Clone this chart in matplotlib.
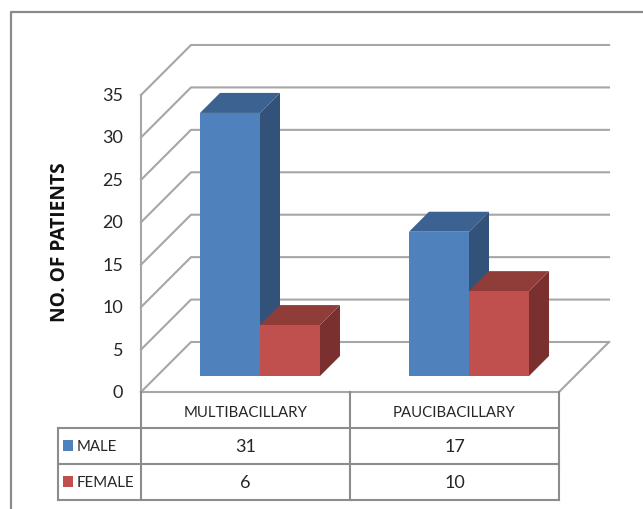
import matplotlib
matplotlib.use("Agg")
import matplotlib.pyplot as plt
from matplotlib.patches import Polygon, Rectangle

categories = ["MULTIBACILLARY", "PAUCIBACILLARY"]
series_names = ["MALE", "FEMALE"]
male = [31, 17]
female = [6, 10]
y_ticks = [0, 5, 10, 15, 20, 25, 30, 35]

W, H = 643, 509
GRID = "#a6a6a6"
TABLE = "#8c8c8c"
TEXT = "#262626"
FACES = {
    "MALE": ("#4f81bd", "#3c6291", "#325279"),
    "FEMALE": ("#c0504d", "#903c39", "#7a302e"),
}

# Pixel scale of the value axis and of one category column.
PX_PER_UNIT = 297 / 35
CAT_W = 209
X0_PX, Y0_PX = 141, 392
BACK = 50       # depth of the walls
BAR_FRONT = 16  # gap between floor edge and bar front
BAR_DEPTH = 20

plt.rcParams["font.family"] = ["Lato", "DejaVu Sans"]
fig = plt.figure(figsize=(W / 100, H / 100), dpi=100)
ax = fig.add_axes([0, 0, 1, 1])
# x is in category columns, y in patients
ax.set_xlim(-X0_PX / CAT_W, (W - X0_PX) / CAT_W)
ax.set_ylim(-(H - Y0_PX) / PX_PER_UNIT, Y0_PX / PX_PER_UNIT)
ax.axis("off")


def dx(px):
    return px / CAT_W


def dy(px):
    return px / PX_PER_UNIT


def line(xs, ys, color=GRID, lw=1.5, z=1):
    ax.plot(xs, ys, color=color, lw=lw, zorder=z, solid_capstyle="projecting")


# Outer frame, open at the bottom and on the right
line([dx(11 - X0_PX), dx(11 - X0_PX), dx(643 - X0_PX)],
     [-(H - Y0_PX) / PX_PER_UNIT, dy(Y0_PX - 12), dy(Y0_PX - 12)], color="#8a8a8a", lw=1.6)

# Walls and floor
n_cat = len(categories)
wall_right = n_cat + dx(BACK)
for v in y_ticks:
    line([0, dx(BACK), wall_right], [v, v + dy(BACK), v + dy(BACK)])
    ax.text(dx(-18), v - dy(1), str(v), ha="right", va="center", fontsize=13, color=TEXT)
line([0, 0], [0, y_ticks[-1]])
line([n_cat, wall_right], [0, dy(BACK)])


def draw_bar(left, width, value, name):
    front, top, side = FACES[name]
    # bars stand on the floor, a little behind its front edge
    y0 = dy(BAR_FRONT)
    x1 = left + width
    d_x, d_y = dx(BAR_DEPTH), dy(BAR_DEPTH)
    ax.add_patch(Polygon([(x1, y0), (x1 + d_x, y0 + d_y), (x1 + d_x, value + y0 + d_y), (x1, value + y0)],
                         facecolor=side, edgecolor="none", zorder=3))
    ax.add_patch(Polygon([(left, value + y0), (left + d_x, value + y0 + d_y), (x1 + d_x, value + y0 + d_y), (x1, value + y0)],
                         facecolor=top, edgecolor="none", zorder=3))
    ax.add_patch(Rectangle((left, y0), width, value, facecolor=front, edgecolor="none", zorder=4))


bar_w = 60 / CAT_W
for i in range(n_cat):
    start = i + 59 / CAT_W
    draw_bar(start, bar_w, male[i], "MALE")
    draw_bar(start + bar_w, bar_w, female[i], "FEMALE")

# Data table below the floor
row_px = [392, 428, 464, 500]
row_y = [(Y0_PX - p) / PX_PER_UNIT for p in row_px]
left_px = dx(58 - X0_PX)
line([0, n_cat], [row_y[0], row_y[0]], color=GRID)
for ry in row_y[1:]:
    line([left_px, n_cat], [ry, ry], color=TABLE)
for col in range(n_cat + 1):
    line([col, col], [row_y[0], row_y[3]], color=TABLE)
line([left_px, left_px], [row_y[1], row_y[3]], color=TABLE)

for i, cat in enumerate(categories):
    ax.text(i + 0.5, (row_y[0] + row_y[1]) / 2 - dy(3), cat, ha="center", va="center", fontsize=10.8, color=TEXT)
    for r, vals in enumerate([male, female]):
        ax.text(i + 0.5, (row_y[r + 1] + row_y[r + 2]) / 2 - dy(1), str(vals[i]), ha="center", va="center",
                fontsize=13, color=TEXT)

for r, name in enumerate(series_names):
    mid = (row_y[r + 1] + row_y[r + 2]) / 2
    ax.add_patch(Rectangle((dx(63 - X0_PX), mid - dy(4.5)), dx(9.5), dy(11), facecolor=FACES[name][0], edgecolor="none"))
    ax.text(dx(77 - X0_PX), mid - dy(1), name, ha="left", va="center", fontsize=10.8, color=TEXT)

ax.text(dx(60 - X0_PX), dy(Y0_PX - 242), "NO. OF PATIENTS", rotation=90, ha="center", va="center",
        fontsize=13.8, fontweight="bold", family="Open Sans", color="#111111")

fig.savefig("out.png", dpi=100)
